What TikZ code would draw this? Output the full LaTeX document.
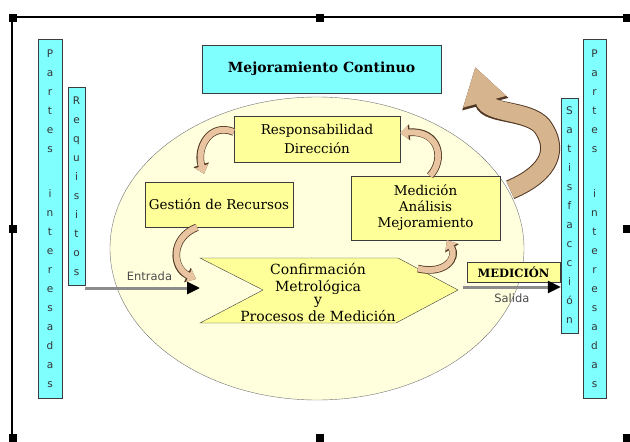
\documentclass[tikz,border=0pt]{standalone}
\usepackage{fontspec}
\setmainfont{DejaVu Serif}
\setsansfont{DejaVu Sans}
\usetikzlibrary{positioning,arrows.meta,shapes.geometric,calc}
\definecolor{cian}{RGB}{128,255,255}
\definecolor{amarillo}{RGB}{255,255,153}
\definecolor{crema}{RGB}{255,255,222}
\definecolor{borde}{RGB}{60,60,60}
\definecolor{tanclaro}{RGB}{232,196,160}
\definecolor{tanoscuro}{RGB}{214,180,142}
\definecolor{tanborde}{RGB}{80,55,35}
\tikzset{
  barra/.style={draw=borde, fill=cian, align=center, inner sep=1pt,
    font=\sffamily\fontsize{10.5}{19}\selectfont, text=black!80, minimum width=#1},
  barra/.default=17pt,
  caja/.style={draw=borde, fill=amarillo, align=center, inner sep=2pt,
    font=\fontsize{13.5}{16}\selectfont},
  titulo/.style={draw=borde, fill=cian, align=center, inner sep=2pt,
    font=\fontsize{14}{16}\selectfont\bfseries},
  elipse/.style={ellipse, draw=black!55, fill=crema, inner sep=0pt},
  flecha/.style={draw=black!45, line width=3pt, -{Triangle[length=13pt,width=12pt,color=black]}},
  curva/.style={draw=tanclaro, line width=6pt, -{Triangle[length=8pt,width=13pt]},
    preaction={draw=tanborde, line width=7.6pt, -{Triangle[length=9.5pt,width=15.5pt]}}},
  curvagrande/.style={draw=tanoscuro, line width=18pt, -{Triangle[length=36pt,width=42pt]},
    preaction={draw=tanborde, line width=20pt, -{Triangle[length=38.5pt,width=45pt]}}},
  etiqueta/.style={font=\sffamily\fontsize{11.5}{13}\selectfont, text=black!70},
}

\begin{document}
\begin{tikzpicture}[x=1pt, y=-1pt]
    \useasboundingbox (0,0) rectangle (630,442);
    \draw[line width=1.2pt] (12,442) -- (12,17) -- (630,17);
    \foreach \x/\y in {13/18,320/18,627/18,13/229,627/229,13/438,320/438,627/438}
      \fill (\x-4,\y-4) rectangle (\x+4,\y+4);

    \node[elipse, minimum width=414pt, minimum height=303pt] (ciclo) at (317,248.5) {};

    \node[barra=24pt, minimum height=359pt] (partesIzq) at (50,218.5)
      {P\\a\\r\\t\\e\\s\\[26pt]i\\n\\t\\e\\r\\e\\s\\a\\d\\a\\s};
    \node[barra, minimum height=198pt] (req) at (76.5,186) {R\\e\\q\\u\\i\\s\\i\\t\\o\\s};
    \node[barra, minimum height=235pt] (sat) at (569.5,215.5) {S\\a\\t\\i\\s\\f\\a\\c\\c\\i\\ó\\n};
    \node[barra=23pt, minimum height=359pt] (partesDer) at (594.5,218.5)
      {P\\a\\r\\t\\e\\s\\[26pt]i\\n\\t\\e\\r\\e\\s\\a\\d\\a\\s};

    \node[titulo, minimum width=239pt, minimum height=48pt] (mejora) at (321.5,69) {Mejoramiento Continuo};
    \node[caja, minimum width=166pt, minimum height=46pt] (resp) at (317,139) {Responsabilidad\\[3pt] Dirección};
    \node[caja, minimum width=148pt, minimum height=45pt] (gest) at (219,204.5) {Gestión de Recursos};
    \node[caja, minimum width=149pt, minimum height=64pt] (med) at (425.5,208) {Medición\\ Análisis\\ Mejoramiento};
    \node[caja, font=\fontsize{11.5}{13}\selectfont\bfseries, minimum width=93pt, minimum height=20pt] (medicion) at (513.5,272) {MEDICIÓN};

    \coordinate (cA) at (200,258);
    \coordinate (cB) at (398,258);
    \coordinate (cC) at (458,290);
    \coordinate (cD) at (396,323);
    \coordinate (cE) at (200,323);
    \coordinate (cF) at (263,290);
    \draw[draw=borde, fill=amarillo] (cA) -- (cB) -- (cC) -- (cD) -- (cE) -- (cF) -- cycle;
    \node[align=center, font=\fontsize{14}{17}\selectfont] (conf) at (318,292)
      {Confirmación\\ Metrológica\\[-4pt] y\\ Procesos de Medición};

    \coordinate (entradaFin) at (200,288);
    \coordinate (salidaIni) at (463,287);
    \draw[flecha] (entradaFin -| req.east) -- node[etiqueta, pos=0.56, above=3pt] {Entrada} (entradaFin);
    \draw[flecha] (salidaIni) -- node[etiqueta, pos=0.5, below=2pt] {Salida} (salidaIni -| sat.west);

    \draw[curva] ([yshift=7pt]resp.west) .. controls (210,122) and (196,148) .. ([xshift=-15pt,yshift=8pt]gest.north);
    \draw[curva] ([xshift=-22pt]gest.south) .. controls (170,238) and (172,268) .. ([xshift=-4pt,yshift=-21pt]cA);
    \draw[curva] ($(cB)!0.33!(cC)$) .. controls (445,275) and (458,258) .. ([xshift=21.5pt]med.south);
    \draw[curva] ([xshift=4.5pt]med.north) .. controls (445,160) and (440,130) .. ([yshift=6pt]resp.east);
    \draw[curvagrande] ([xshift=10pt,yshift=-14pt]med.north east) .. controls (552,172) and (558,148) .. (542,126)
      .. controls (528,110) and (488,114) .. ([xshift=34pt,yshift=2pt]mejora.east);
  \end{tikzpicture}
\end{document}
